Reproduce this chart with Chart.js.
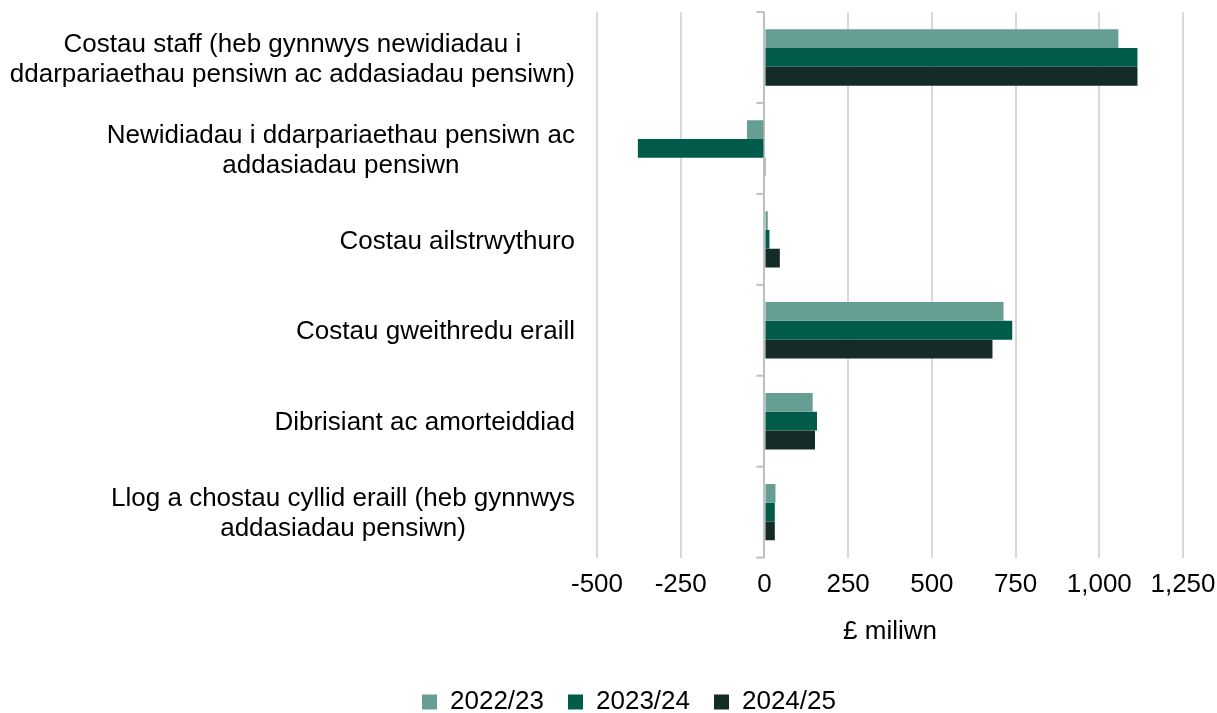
<!DOCTYPE html>
<html>
<head>
<meta charset="utf-8">
<script src="https://cdn.jsdelivr.net/npm/chart.js@4/dist/chart.umd.min.js"></script>
<style>
  html, body { margin: 0; padding: 0; background: #fff; }
  #wrap { width: 1217px; height: 713px; position: relative; }
</style>
</head>
<body>
<div id="wrap"><canvas id="c" width="1217" height="713"></canvas></div>
<script>
const categories = [
  ["Costau staff (heb gynnwys newidiadau i", "ddarpariaethau pensiwn ac addasiadau pensiwn)"],
  ["Newidiadau i ddarpariaethau pensiwn ac", "addasiadau pensiwn"],
  ["Costau ailstrwythuro"],
  ["Costau gweithredu eraill"],
  ["Dibrisiant ac amorteiddiad"],
  ["Llog a chostau cyllid eraill (heb gynnwys", "addasiadau pensiwn)"]
];
const seriesNames = ["2022/23", "2023/24", "2024/25"];
const values2022 = [1057, -52, 10, 714, 144, 33];
const values2023 = [1114, -378, 15, 740, 157, 31];
const values2024 = [1114, 2, 46, 681, 151, 31];
const xTicks = [-500, -250, 0, 250, 500, 750, 1000, 1250];

const colors = ["#669e93", "#005b4b", "#152b27"];
const FONT = "'Liberation Sans', Arial, sans-serif";
const FS = 26;
const PAD_LEFT = 75;

const labelPlugin = {
  id: 'catLabels',
  afterDraw(chart) {
    const ctx = chart.ctx;
    const y = chart.scales.y;
    const right = chart.chartArea.left - 22;
    ctx.save();
    ctx.font = FS + "px " + FONT;
    ctx.fillStyle = "#000";
    ctx.textBaseline = "middle";
    ctx.textAlign = "center";
    const lh = 30;
    categories.forEach((lines, i) => {
      const cy = y.getPixelForValue(i) + 2;
      const w = Math.max(...lines.map(l => ctx.measureText(l).width));
      const cx = right - w / 2;
      const startY = cy - (lines.length - 1) * lh / 2;
      lines.forEach((l, k) => ctx.fillText(l, cx, startY + k * lh));
    });
    ctx.restore();
  },
  beforeDatasetsDraw(chart) {
    const ctx = chart.ctx;
    const y = chart.scales.y;
    const x = chart.scales.x;
    const zx = x.getPixelForValue(0);
    ctx.save();
    ctx.strokeStyle = "#bfbfbf";
    ctx.lineWidth = 2;
    for (let i = 0; i <= categories.length; i++) {
      const py = y.getPixelForValue(i - 0.5);
      ctx.beginPath();
      ctx.moveTo(zx - 8, py);
      ctx.lineTo(zx, py);
      ctx.stroke();
    }
    ctx.restore();
  }
};

new Chart(document.getElementById('c'), {
  type: 'bar',
  data: {
    labels: categories.map(c => c.join(' ')),
    datasets: [
      { label: seriesNames[0], data: values2022, backgroundColor: colors[0] },
      { label: seriesNames[1], data: values2023, backgroundColor: colors[1] },
      { label: seriesNames[2], data: values2024, backgroundColor: colors[2] }
    ]
  },
  options: {
    indexAxis: 'y',
    responsive: false,
    animation: false,
    layout: { padding: { top: 12, right: 34, bottom: -12, left: PAD_LEFT } },
    datasets: { bar: { categoryPercentage: 0.62, barPercentage: 1.0 } },
    scales: {
      x: {
        min: -500, max: 1250,
        afterBuildTicks(scale) { scale.ticks = xTicks.map(v => ({ value: v })); },
        afterFit(scale) { scale.paddingRight = 0; scale.paddingLeft = 0; },
        grid: {
          color: ctx => (ctx.tick && ctx.tick.value === 0) ? '#bfbfbf' : '#d9d9d9',
          lineWidth: 2,
          drawTicks: false
        },
        border: { display: false },
        ticks: {
          padding: 12,
          color: '#000',
          font: { family: FONT, size: FS },
          callback: v => Number(v).toLocaleString('en-US')
        },
        title: {
          display: true, text: '£ miliwn', color: '#000',
          font: { family: FONT, size: FS },
          padding: { top: 3, bottom: 18 }
        }
      },
      y: {
        grid: { display: false },
        border: { display: false },
        ticks: { display: false },
        afterFit(scale) { scale.width = 597 - PAD_LEFT; }
      }
    },
    plugins: {
      legend: {
        position: 'bottom',
        labels: {
          boxWidth: 15, boxHeight: 15,
          color: '#000',
          font: { family: FONT, size: FS },
          padding: 24
        }
      },
      tooltip: { enabled: false }
    }
  },
  plugins: [labelPlugin]
});
</script>
</body>
</html>
